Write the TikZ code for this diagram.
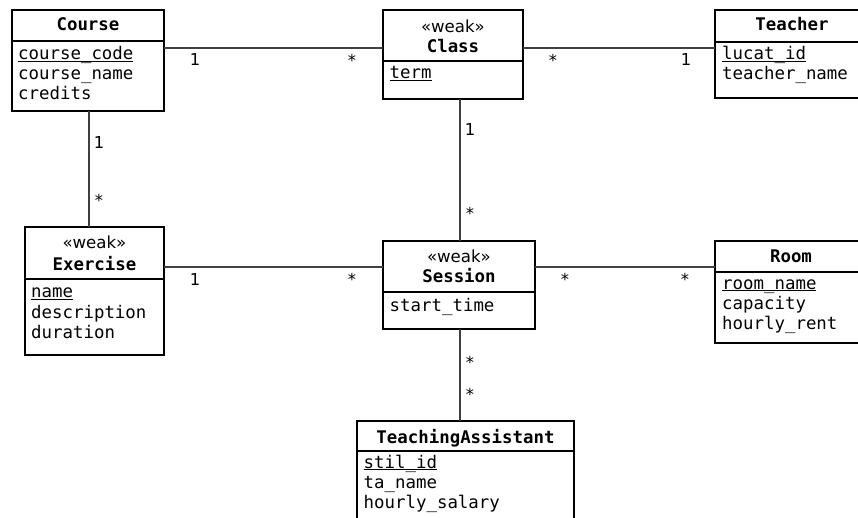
\documentclass[tikz,border=0pt]{standalone}
\usepackage{fontspec}
\setmainfont{DejaVu Sans}
\setmonofont{DejaVu Sans Mono}

% primary-key attribute: text with a rule just below the baseline
\newcommand\pkattr[1]{\setbox0\hbox{#1}\rlap{\rule[-2.4pt]{\wd0}{1pt}}\box0}

\begin{document}
\begin{tikzpicture}[x=1pt,y=-1pt,
  entity/.style={draw=black, line width=1.1pt, inner sep=0pt, outer sep=0pt,
                 anchor=north west},
  sepline/.style={draw=black, line width=1.1pt},
  conn/.style={draw=black!75, line width=1.1pt},
  title/.style={anchor=base, inner sep=0pt,
                font=\fontsize{17.4}{20}\selectfont\ttfamily\bfseries},
  stereo/.style={anchor=base, inner sep=0pt,
                 font=\fontsize{16.6}{20}\selectfont\rmfamily},
  attr/.style={anchor=base west, inner sep=0pt,
               font=\fontsize{17.4}{20}\selectfont\ttfamily},
  mult/.style={anchor=base, inner sep=0pt,
               font=\fontsize{16.4}{20}\selectfont\rmfamily}]

\useasboundingbox (0,0) rectangle (858,518);
\clip (0,0) rectangle (858,518);
\fill[white] (0,0) rectangle (858,518);

% ---------- Course ----------
\node[entity, minimum width=152pt, minimum height=101pt] (course) at (12,10) {};
\draw[sepline] (course.west |- 0,41) -- (course.east |- 0,41);
\node[title] (courseT) at (88,31) {Course};
\node[attr] (courseA1) at (18,60) {\pkattr{course\_code}};
\node[attr] (courseA2) at (18,80) {course\_name};
\node[attr] (courseA3) at (18,100) {credits};

% ---------- Class ----------
\node[entity, minimum width=140pt, minimum height=89pt] (class) at (383,10) {};
\draw[sepline] (class.west |- 0,61) -- (class.east |- 0,61);
\node[stereo] (classS) at (453,33) {«weak»};
\node[title] (classT) at (453,53) {Class};
\node[attr] (classA1) at (389.5,79) {\pkattr{term}};

% ---------- Teacher ----------
\node[entity, minimum width=154pt, minimum height=88pt] (teacher) at (715,10) {};
\draw[sepline] (teacher.west |- 0,42) -- (teacher.east |- 0,42);
\node[title] (teacherT) at (792,31) {Teacher};
\node[attr] (teacherA1) at (722,60) {\pkattr{lucat\_id}};
\node[attr] (teacherA2) at (722,80) {teacher\_name};

% ---------- Exercise ----------
\node[entity, minimum width=139pt, minimum height=128pt] (exercise) at (25,227) {};
\draw[sepline] (exercise.west |- 0,279) -- (exercise.east |- 0,279);
\node[stereo] (exerciseS) at (94.5,249) {«weak»};
\node[title] (exerciseT) at (94.5,271) {Exercise};
\node[attr] (exerciseA1) at (31,298) {\pkattr{name}};
\node[attr] (exerciseA2) at (31,318) {description};
\node[attr] (exerciseA3) at (31,338) {duration};

% ---------- Session ----------
\node[entity, minimum width=152pt, minimum height=88pt] (session) at (383,241) {};
\draw[sepline] (session.west |- 0,292) -- (session.east |- 0,292);
\node[stereo] (sessionS) at (459,263) {«weak»};
\node[title] (sessionT) at (459,283) {Session};
\node[attr] (sessionA1) at (389.5,311) {start\_time};

% ---------- Room ----------
\node[entity, minimum width=152pt, minimum height=102pt] (room) at (715,241) {};
\draw[sepline] (room.west |- 0,272) -- (room.east |- 0,272);
\node[title] (roomT) at (791,263) {Room};
\node[attr] (roomA1) at (722,289) {\pkattr{room\_name}};
\node[attr] (roomA2) at (722,309) {capacity};
\node[attr] (roomA3) at (722,329) {hourly\_rent};

% ---------- TeachingAssistant ----------
\node[entity, minimum width=217pt, minimum height=120pt] (ta) at (357,421) {};
\draw[sepline] (ta.west |- 0,451) -- (ta.east |- 0,451);
\node[title] (taT) at (465.5,443) {TeachingAssistant};
\node[attr] (taA1) at (363.5,468) {\pkattr{stil\_id}};
\node[attr] (taA2) at (363.5,488) {ta\_name};
\node[attr] (taA3) at (363.5,508) {hourly\_salary};

% ---------- associations ----------
\draw[conn] (course.east |- 0,48) -- (class.west |- 0,48);
\draw[conn] (class.east |- 0,48) -- (teacher.west |- 0,48);
\draw[conn] (course.south -| 89,0) -- (exercise.north -| 89,0);
\draw[conn] (class.south -| 460,0) -- (session.north -| 460,0);
\draw[conn] (exercise.east |- 0,267) -- (session.west |- 0,267);
\draw[conn] (session.east |- 0,267) -- (room.west |- 0,267);
\draw[conn] (session.south -| 460,0) -- (ta.north -| 460,0);

% ---------- multiplicities ----------
\node[mult] (m1) at (195,66) {1};
\node[mult] (m2) at (352,67) {*};
\node[mult] (m3) at (553,67) {*};
\node[mult] (m4) at (686,66) {1};
\node[mult] (m5) at (99,149) {1};
\node[mult] (m6) at (99,207) {*};
\node[mult] (m7) at (470,136) {1};
\node[mult] (m8) at (470,220) {*};
\node[mult] (m9) at (195,285) {1};
\node[mult] (m10) at (352,285) {*};
\node[mult] (m11) at (565,285) {*};
\node[mult] (m12) at (685,285) {*};
\node[mult] (m13) at (470,368) {*};
\node[mult] (m14) at (470,400) {*};

\end{tikzpicture}
\end{document}
